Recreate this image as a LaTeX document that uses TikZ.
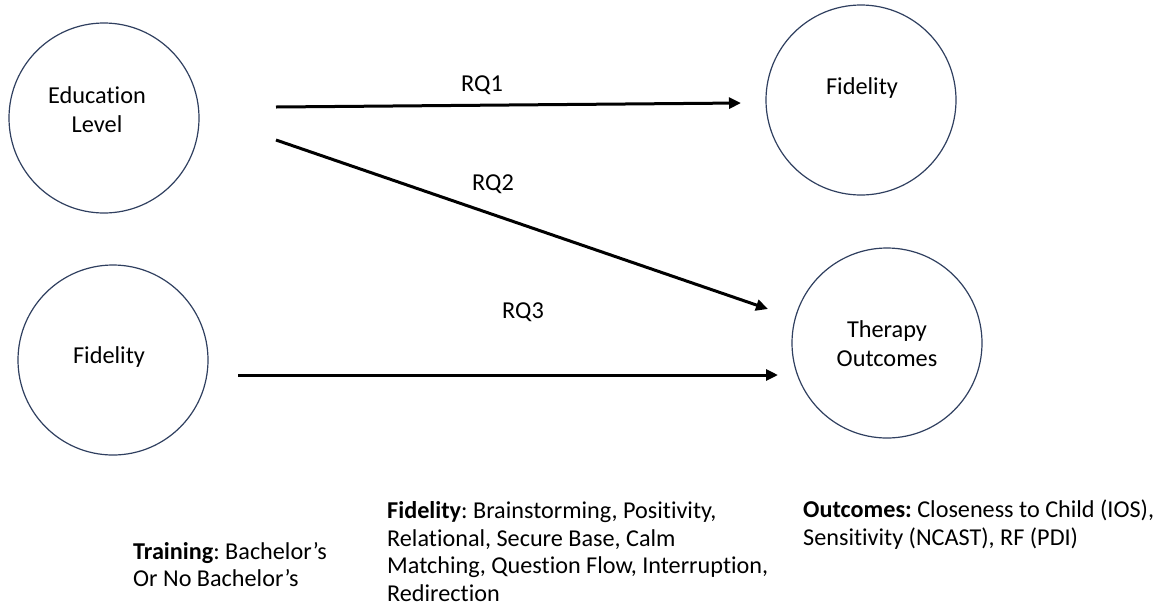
\documentclass[tikz,border=0pt]{standalone}
\usepackage{fontspec}
\setmainfont{Carlito}[Ligatures={NoCommon,TeX}]
\usetikzlibrary{arrows.meta}
\definecolor{ring}{HTML}{2F3F5F}
\tikzset{
  var/.style={circle, draw=ring, line width=1.2pt, minimum size=190pt, inner sep=0pt},
  lab/.style={font=\fontsize{24.3}{29}\selectfont, align=center, inner sep=0pt},
  note/.style={font=\fontsize{24.2}{27.5}\selectfont, align=left, anchor=west, inner sep=0pt},
  link/.style={line width=3pt, -{Triangle[length=12pt,width=11pt]}},
}
\begin{document}
\frenchspacing
\begin{tikzpicture}[x=1pt,y=-1pt]
\useasboundingbox (0,0) rectangle (1167,614);
% circles
\node[var] (edu) at (104,118) {};
\node[var] (fidR) at (861,100) {};
\node[var] (out) at (887,343) {};
\node[var] (fidL) at (113,360) {};
% circle texts
\node[lab] (eduT) at (97,110) {Education\\Level};
\node[lab] (fidRT) at (862,88) {Fidelity};
\node[lab] (outT) at (887,344) {Therapy\\Outcomes};
\node[lab] (fidLT) at (109,357) {Fidelity};
% arrow end points
\coordinate (r1s) at (276,107);
\coordinate (r1e) at (741,103);
\coordinate (r2s) at (276,140);
\coordinate (r2e) at (768,309);
\coordinate (r3s) at (238,375);
\coordinate (r3e) at (778,375);
\draw[link] (r1s) -- (r1e);
\draw[link] (r2s) -- (r2e);
\draw[link] (r3s) -- (r3e);
% arrow labels
\node[lab] (q1) at (482,85) {RQ1};
\node[lab] (q2) at (493,184) {RQ2};
\node[lab] (q3) at (523,312) {RQ3};
% notes
\node[note] (nTrain) at (133,564.5) {\textbf{Training}: Bachelor’s\\Or No Bachelor’s};
\node[note] (nFid) at (387,551.5) {\textbf{Fidelity}: Brainstorming, Positivity,\\Relational, Secure Base, Calm\\Matching, Question Flow, Interruption,\\Redirection};
\node[note] (nOut) at (803,524.5) {\textbf{Outcomes:} Closeness to Child (IOS),\\Sensitivity (NCAST), RF (PDI)};
\end{tikzpicture}
\end{document}
